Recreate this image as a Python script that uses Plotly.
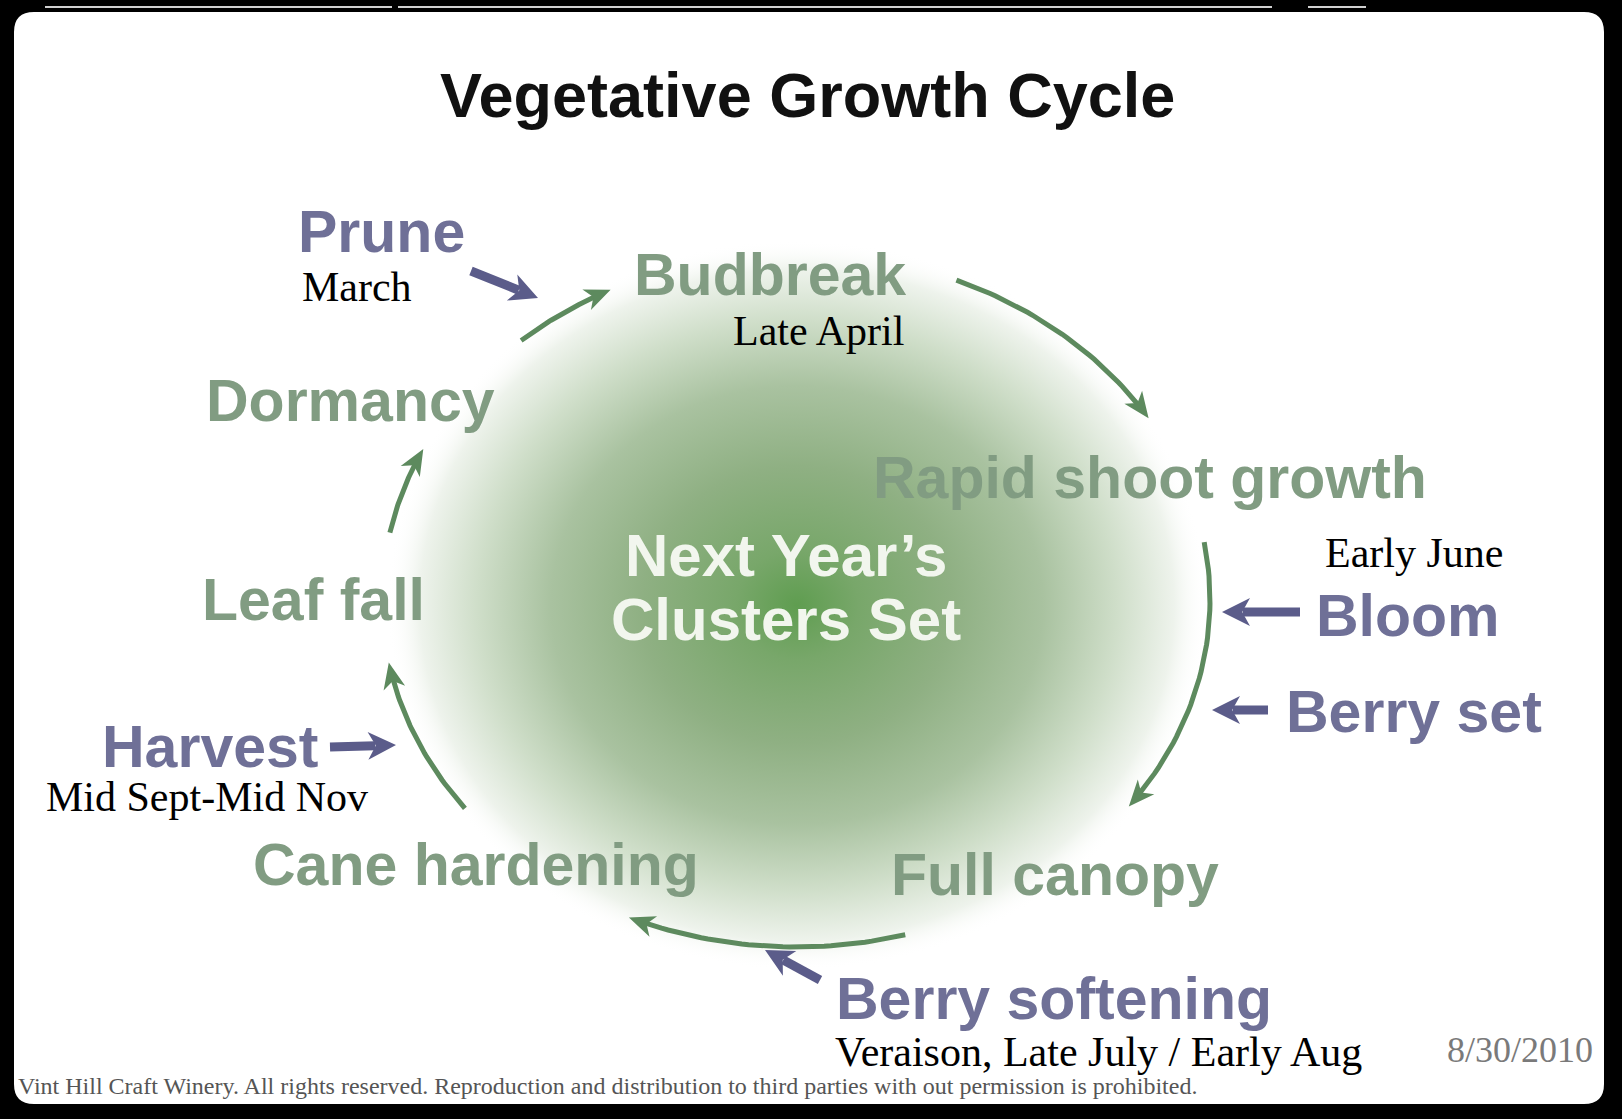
import base64
import numpy as np
import plotly.graph_objects as go

# ---------------- data ----------------
title_text = "Vegetative Growth Cycle"

stage_names = ["Budbreak", "Rapid shoot growth", "Full canopy",
               "Cane hardening", "Leaf fall", "Dormancy"]
stage_x = [770, 1150, 1055, 476, 313, 350]
stage_y = [275, 478, 875, 865, 600, 401]

event_names = ["Prune", "Bloom", "Berry set", "Berry softening", "Harvest"]
event_x = [381, 1408, 1414, 1054, 210]
event_y = [232, 616, 712, 999, 747]

timing_names = ["March", "Late April", "Early June", "Mid Sept-Mid Nov",
                "Veraison, Late July / Early Aug"]
timing_x = [357, 818, 1414, 207, 1098]
timing_y = [287, 331, 553, 797, 1052]

center_lines = ["Next Year\u2019s", "Clusters Set"]
center_line_y = [555, 619]

# cycle arcs (degrees on the cycle ellipse, clockwise on screen)
arc_start_deg = [-131.6, -67.2, -9.6, 74.7, 143.1, 191.2]
arc_end_deg = [-116.6, -31.6, 36.5, 113.8, 169.6, 205.8]

# event pointer arrows: tail -> tip
ptr_tail_x = [471, 1300, 1268, 820, 330]
ptr_tail_y = [271, 612, 710, 980, 747]
ptr_tip_x = [538, 1222, 1212, 765, 396]
ptr_tip_y = [298, 612, 710, 950, 745]

date_text = "8/30/2010"
footer_text = ("Vint Hill Craft Winery. All rights reserved. Reproduction and "
               "distribution to third parties with out permission is prohibited.")

# ---------------- style ----------------
W, H = 1622, 1119
X0, X1, Y0, Y1 = 14, 1604, 12, 1104
CX, CY, RX, RY = 796, 600, 414, 347
GREEN_LINE = "#5d8a5e"
GREEN_TEXT = "#819c82"
BLUE_TEXT = "#6f7097"
BLUE_LINE = "#5b5c8a"
SANS = "Liberation Sans, Arial, sans-serif"
SERIF = "Liberation Serif, Times New Roman, serif"


def head_path(tx, ty, dx, dy, length, width):
    n = np.hypot(dx, dy)
    dx, dy = dx / n, dy / n
    nx, ny = -dy, dx
    p1 = (tx - length * dx + width / 2 * nx, ty - length * dy + width / 2 * ny)
    p2 = (tx - 0.72 * length * dx, ty - 0.72 * length * dy)
    p3 = (tx - length * dx - width / 2 * nx, ty - length * dy - width / 2 * ny)
    return (f"M {tx:.1f},{ty:.1f} L {p1[0]:.1f},{p1[1]:.1f} "
            f"L {p2[0]:.1f},{p2[1]:.1f} L {p3[0]:.1f},{p3[1]:.1f} Z")


fig = go.Figure()
shapes = []
annotations = []

# green cycle arcs
for a0, a1 in zip(arc_start_deg, arc_end_deg):
    t = np.radians(np.linspace(a0, a1 - 2.0, 40))
    fig.add_trace(go.Scatter(x=CX + RX * np.cos(t), y=CY + RY * np.sin(t),
                             mode="lines", line=dict(color=GREEN_LINE, width=5),
                             hoverinfo="skip", showlegend=False))
    te = np.radians(a1)
    tx, ty = CX + RX * np.cos(te), CY + RY * np.sin(te)
    dx, dy = -RX * np.sin(te), RY * np.cos(te)
    shapes.append(dict(type="path", path=head_path(tx, ty, dx, dy, 26, 22),
                       fillcolor=GREEN_LINE, line=dict(width=0), layer="above"))

# blue pointer arrows
for sx, sy, ex, ey in zip(ptr_tail_x, ptr_tail_y, ptr_tip_x, ptr_tip_y):
    dx, dy = ex - sx, ey - sy
    n = np.hypot(dx, dy)
    bx, by = ex - 0.8 * 26 * dx / n, ey - 0.8 * 26 * dy / n
    fig.add_trace(go.Scatter(x=[sx, bx], y=[sy, by], mode="lines",
                             line=dict(color=BLUE_LINE, width=9),
                             hoverinfo="skip", showlegend=False))
    shapes.append(dict(type="path", path=head_path(ex, ey, dx, dy, 28, 28),
                       fillcolor=BLUE_LINE, line=dict(width=0), layer="above"))

# rounded corners of the white panel
R = 20
corner_paths = [
    f"M {X0},{Y0} L {X0 + R},{Y0} Q {X0},{Y0} {X0},{Y0 + R} Z",
    f"M {X1},{Y0} L {X1 - R},{Y0} Q {X1},{Y0} {X1},{Y0 + R} Z",
    f"M {X0},{Y1} L {X0 + R},{Y1} Q {X0},{Y1} {X0},{Y1 - R} Z",
    f"M {X1},{Y1} L {X1 - R},{Y1} Q {X1},{Y1} {X1},{Y1 - R} Z",
]
for p in corner_paths:
    shapes.append(dict(type="path", path=p, fillcolor="#000000",
                       line=dict(width=0), layer="above"))

# thin light lines in the black frame at the top
for xa, xb in [(45, 392), (398, 1272), (1308, 1366)]:
    shapes.append(dict(type="line", xref="x", yref="paper", x0=xa, x1=xb,
                       y0=1.0045, y1=1.0045,
                       line=dict(color="#d0d0d0", width=2), layer="above"))


def txt(x, y, s, size, color, family, bold=False, xanchor="center"):
    annotations.append(dict(x=x, y=y, text=f"<b>{s}</b>" if bold else s,
                            showarrow=False, xanchor=xanchor, yanchor="middle",
                            font=dict(size=size, color=color, family=family)))


txt(807, 95, title_text, 63, "#111111", SANS, bold=True)
for s, x, y in zip(stage_names, stage_x, stage_y):
    txt(x, y, s, 59, GREEN_TEXT, SANS, bold=True)
for s, x, y in zip(event_names, event_x, event_y):
    txt(x, y, s, 59, BLUE_TEXT, SANS, bold=True)
for s, y in zip(center_lines, center_line_y):
    txt(786, y, s, 60, "#f2f6ee", SANS, bold=True)
for s, x, y in zip(timing_names, timing_x, timing_y):
    txt(x, y, s, 42, "#000000", SERIF)
txt(1520, 1050, date_text, 36, "#7a7a7a", SERIF)
txt(16, 1086, footer_text, 24, "#555555", SERIF, xanchor="left")

# soft green radial glow behind the centre
svg = f"""<svg xmlns='http://www.w3.org/2000/svg' width='{X1 - X0}' height='{Y1 - Y0}'
 viewBox='{X0} {Y0} {X1 - X0} {Y1 - Y0}' preserveAspectRatio='none'>
<defs><radialGradient id='g' cx='0.5' cy='0.5' r='0.5'>
<stop offset='0' stop-color='#5f9d50'/>
<stop offset='0.15' stop-color='#78a76a'/>
<stop offset='0.38' stop-color='#8fb083'/>
<stop offset='0.6' stop-color='#a9c2a0'/>
<stop offset='0.78' stop-color='#cfdec9'/>
<stop offset='0.92' stop-color='#eef3ec'/>
<stop offset='1' stop-color='#ffffff' stop-opacity='0'/>
</radialGradient></defs>
<ellipse cx='797' cy='605' rx='410' ry='365' fill='url(#g)'/>
</svg>"""
src = "data:image/svg+xml;base64," + base64.b64encode(svg.encode()).decode()

fig.update_layout(
    width=W, height=H,
    margin=dict(l=X0, r=W - X1, t=Y0, b=H - Y1, pad=0),
    paper_bgcolor="#000000", plot_bgcolor="#ffffff",
    xaxis=dict(range=[X0, X1], visible=False, fixedrange=True),
    yaxis=dict(range=[Y1, Y0], visible=False, fixedrange=True),
    shapes=shapes, annotations=annotations,
    images=[dict(source=src, xref="paper", yref="paper", x=0, y=1,
                  sizex=1, sizey=1, xanchor="left", yanchor="top",
                  sizing="stretch", layer="below")],
    showlegend=False,
)

fig.write_html("out.html", config={"displayModeBar": False},
               post_script="document.body.style.margin='0';document.body.style.overflow='hidden';")
